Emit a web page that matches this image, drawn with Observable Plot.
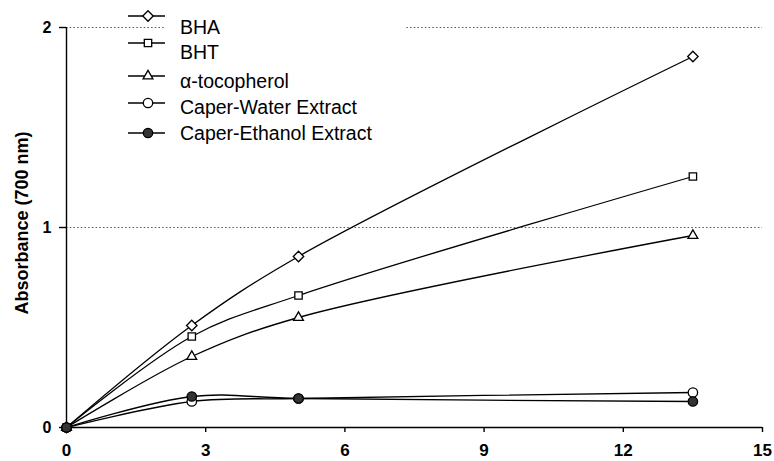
<!DOCTYPE html>
<html><head><meta charset="utf-8">
<script src="https://cdn.jsdelivr.net/npm/d3@7"></script>
<script src="https://cdn.jsdelivr.net/npm/@observablehq/plot@0.6"></script>
<style>
body{margin:0;background:#fff;}
#chart{position:relative;width:774px;height:461px;font-family:"Liberation Sans",Arial,sans-serif;}
#chart svg.overlay{position:absolute;left:0;top:0;pointer-events:none;}
</style></head><body><div id="chart"></div>
<script>
const concentrations = [0, 2.7, 5, 13.5];
const seriesNames = ["BHA", "BHT", "α-tocopherol", "Caper-Water Extract", "Caper-Ethanol Extract"];
const bha = [0, 0.51, 0.855, 1.855];
const bht = [0, 0.455, 0.66, 1.255];
const tocopherol = [0, 0.355, 0.55, 0.96];
const waterExtract = [0, 0.13, 0.145, 0.175];
const ethanolExtract = [0, 0.155, 0.145, 0.13];
const xTicks = [0, 3, 6, 9, 12, 15];
const yTicks = [0, 1, 2];
const gridValues = [1, 2];
const yTitle = "Absorbance (700 nm)";
const symbolNames = ["diamond2", "square2", "triangle2", "circle", "circle"];
const symbolFills = ["white", "white", "white", "white", "#333"];

const allSeries = [bha, bht, tocopherol, waterExtract, ethanolExtract];
const rows = [];
allSeries.forEach((vals, i) => vals.forEach((v, j) => rows.push({series: seriesNames[i], x: concentrations[j], y: v})));

const plot = Plot.plot({
  width: 774, height: 461,
  marginLeft: 66, marginRight: 12, marginTop: 27, marginBottom: 34,
  style: {fontFamily: "'Liberation Sans', Arial, sans-serif", background: "white", color: "black", overflow: "visible"},
  x: {domain: [0, 15]},
  y: {domain: [0, 2]},
  color: {domain: seriesNames, range: symbolFills},
  symbol: {domain: seriesNames, range: symbolNames},
  marks: [
    Plot.ruleY(gridValues, {stroke: "#555", strokeDasharray: "1.5,2.2", strokeWidth: 1}),
    Plot.ruleX([0], {stroke: "black", strokeWidth: 1.4}),
    Plot.ruleY([0], {stroke: "black", strokeWidth: 1.4}),
    Plot.axisX({ticks: xTicks, tickFormat: d3.format("d"), tickSize: 5, tickPadding: 11, fontSize: 17, fontWeight: "bold", label: null, strokeWidth: 1.4}),
    Plot.axisY({ticks: yTicks, tickFormat: d3.format("d"), tickSize: 7, tickPadding: 8, fontSize: 16, fontWeight: "bold", label: null, strokeWidth: 1.4}),
    Plot.line(rows, {x: "x", y: "y", z: "series", curve: "catmull-rom", stroke: "black", strokeWidth: 1.3}),
    Plot.dot(rows, {x: "x", y: "y", symbol: "series", fill: "series", stroke: "black", r: 4.7, strokeWidth: 1.3})
  ]
});
const chart = document.getElementById("chart");
chart.appendChild(plot);

// overlay: y-axis title and legend
const ov = d3.select(chart).append("svg").attr("class", "overlay").attr("width", 774).attr("height", 461)
  .style("font-family", "'Liberation Sans', Arial, sans-serif");
ov.append("text").attr("transform", "translate(28,223) rotate(-90)").attr("text-anchor", "middle")
  .attr("font-size", 18).attr("font-weight", "bold").attr("fill", "black").text(yTitle);

ov.append("rect").attr("x", 166).attr("y", 4).attr("width", 240).attr("height", 142).attr("fill", "white");
const iconY = [16, 43, 76, 103, 133];
const textY = [27, 52, 81, 107, 133];
const d3Symbols = {diamond2: d3.symbolDiamond2, square2: d3.symbolSquare2, triangle2: d3.symbolTriangle2, circle: d3.symbolCircle};
seriesNames.forEach((name, i) => {
  const g = ov.append("g");
  g.append("line").attr("x1", 128).attr("x2", 165).attr("y1", iconY[i]).attr("y2", iconY[i]).attr("stroke", "black").attr("stroke-width", 1.3);
  g.append("path").attr("transform", `translate(148,${iconY[i]})`)
    .attr("d", d3.symbol(d3Symbols[symbolNames[i]], Math.PI * 4.7 * 4.7)())
    .attr("fill", symbolFills[i]).attr("stroke", "black").attr("stroke-width", 1.3);
  g.append("text").attr("x", 180).attr("y", textY[i]).attr("dy", "0.35em").attr("font-size", 19.5).attr("fill", "black").text(name);
});
</script></body></html>
